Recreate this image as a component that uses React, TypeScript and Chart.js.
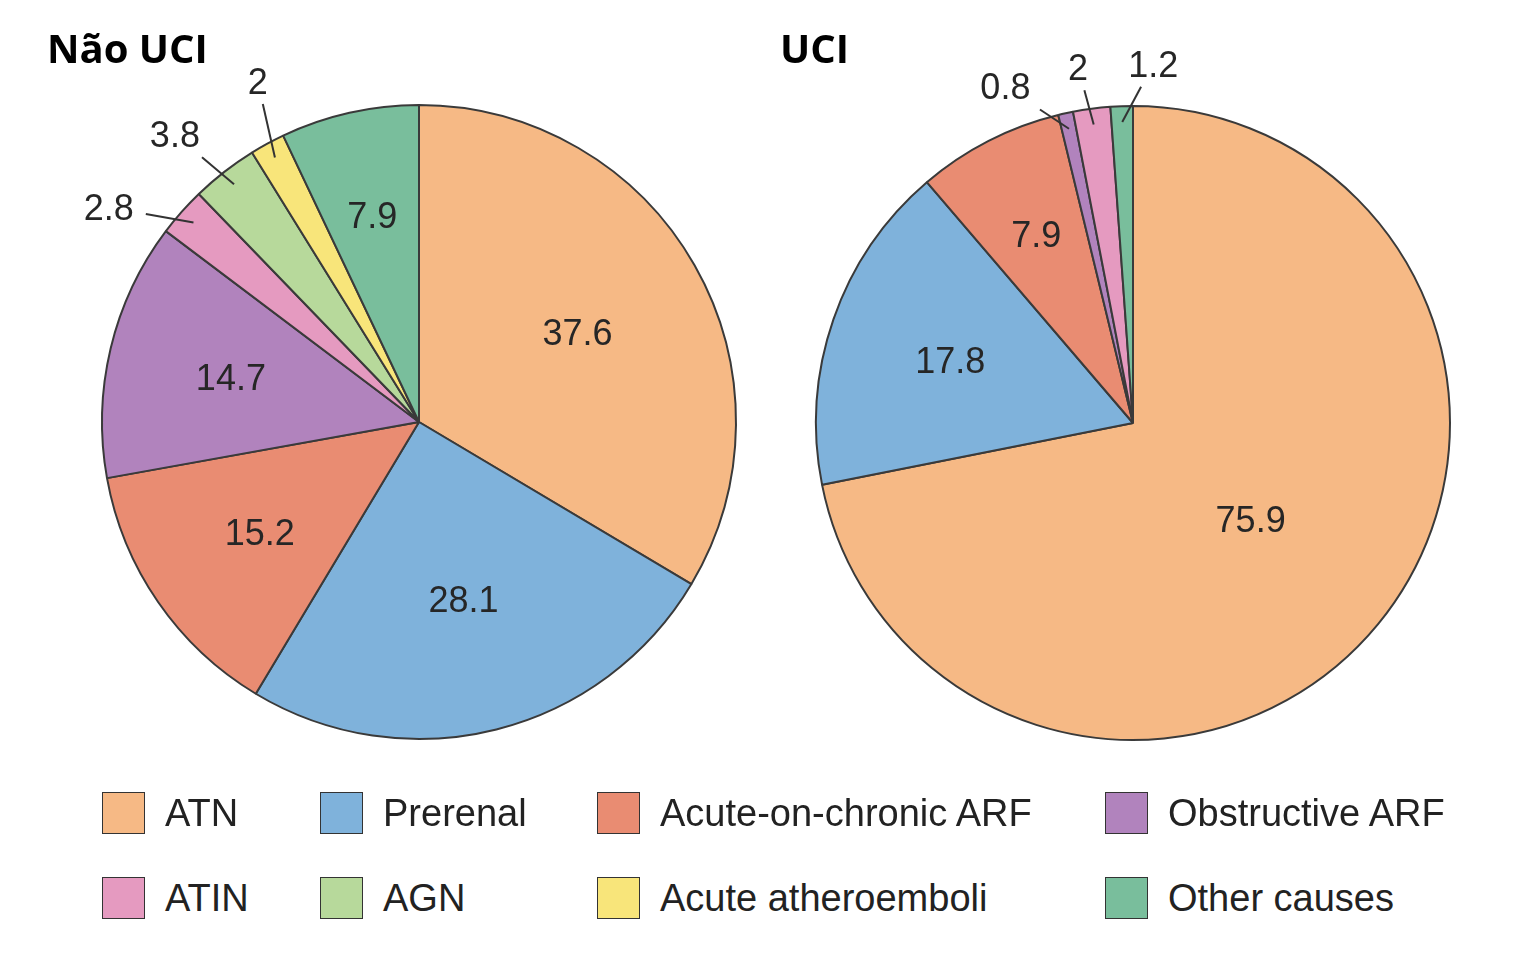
import React, { useEffect, useRef } from "react";
import { Chart, registerables } from "chart.js";

Chart.register(...registerables);

const categories = [
  "ATN",
  "Prerenal",
  "Acute-on-chronic ARF",
  "Obstructive ARF",
  "ATIN",
  "AGN",
  "Acute atheroemboli",
  "Other causes",
];
const nonIcuValues = [37.6, 28.1, 15.2, 14.7, 2.8, 3.8, 2, 7.9];
const icuValues = [75.9, 17.8, 7.9, 0.8, 2, 0, 0, 1.2];
const sliceColors = [
  "#F6B985",
  "#7FB2DB",
  "#E98C72",
  "#B183BD",
  "#E59AC0",
  "#B7D99B",
  "#F8E57A",
  "#79BE9C",
];
const panelTitles = ["Não UCI", "UCI"];
const legendRows = [
  [0, 1, 2, 3],
  [4, 5, 6, 7],
];

const LABEL_SIZE = 36;
const LABEL_FONT = `${LABEL_SIZE}px "Liberation Sans", Arial, sans-serif`;

type LabelStyle = { textRadius: number; minSepDeg: number; shiftDeg: number };

function makeLabelPlugin(style: LabelStyle) {
  return {
    id: "sliceLabels",
    afterDatasetsDraw(chart: any) {
      const ctx: CanvasRenderingContext2D = chart.ctx;
      const meta = chart.getDatasetMeta(0);
      const values = chart.data.datasets[0].data as number[];
      const total = values.reduce((a, b) => a + b, 0);
      ctx.save();
      ctx.font = LABEL_FONT;
      ctx.fillStyle = "#262626";
      ctx.textAlign = "center";
      ctx.textBaseline = "alphabetic";
      const capHalf = LABEL_SIZE * 0.358;
      const outside: any[] = [];
      meta.data.forEach((arc: any, i: number) => {
        const v = values[i];
        if (!v) return;
        const p = arc.getProps(["x", "y", "startAngle", "endAngle", "outerRadius"], true);
        const mid = (p.startAngle + p.endAngle) / 2;
        const frac = v / total;
        const text = String(v);
        if (frac < 0.05) {
          outside.push({ text, mid, angle: mid, p });
          return;
        }
        const rf = frac > 0.5 ? 0.48 : frac > 0.2 ? 0.575 : frac > 0.1 ? 0.61 : 0.67;
        ctx.fillText(
          text,
          p.x + Math.cos(mid) * p.outerRadius * rf,
          p.y + Math.sin(mid) * p.outerRadius * rf + capHalf
        );
      });
      outside.sort((a, b) => a.angle - b.angle);
      const minSep = (style.minSepDeg * Math.PI) / 180;
      for (let k = 0; k < 300; k++) {
        for (let j = 1; j < outside.length; j++) {
          const d = outside[j].angle - outside[j - 1].angle;
          if (d < minSep) {
            const s = (minSep - d) / 2;
            outside[j - 1].angle -= s;
            outside[j].angle += s;
          }
        }
      }
      const shift = (style.shiftDeg * Math.PI) / 180;
      ctx.strokeStyle = "#333333";
      ctx.lineWidth = 2;
      outside.forEach((o) => {
        const { x, y, outerRadius: R } = o.p;
        const a = o.angle + shift;
        const tx = x + Math.cos(a) * R * style.textRadius;
        const ty = y + Math.sin(a) * R * style.textRadius;
        const ax = x + Math.cos(o.mid) * R * 0.95;
        const ay = y + Math.sin(o.mid) * R * 0.95;
        const w = ctx.measureText(o.text).width;
        const hw = w / 2 + 12;
        const hh = capHalf + 10;
        let ux = ax - tx;
        let uy = ay - ty;
        const len = Math.hypot(ux, uy) || 1;
        ux /= len;
        uy /= len;
        const t = Math.min(
          Math.abs(ux) > 1e-6 ? hw / Math.abs(ux) : Infinity,
          Math.abs(uy) > 1e-6 ? hh / Math.abs(uy) : Infinity
        );
        const ex = tx + ux * t;
        const ey = ty + uy * t;
        ctx.beginPath();
        ctx.moveTo(ax, ay);
        ctx.lineTo(ex, ey);
        ctx.stroke();
        ctx.fillText(o.text, tx, ty + capHalf);
      });
      ctx.restore();
    },
  };
}

function PieCanvas({
  values,
  left,
  top,
  labelStyle,
}: {
  values: number[];
  left: number;
  top: number;
  labelStyle: LabelStyle;
}) {
  const ref = useRef<HTMLCanvasElement | null>(null);
  useEffect(() => {
    if (!ref.current) return;
    const chart = new Chart(ref.current, {
      type: "pie",
      data: {
        labels: categories,
        datasets: [
          {
            data: values,
            backgroundColor: sliceColors,
            borderColor: "#3a3a3a",
            borderWidth: 2,
            radius: 317,
          } as any,
        ],
      },
      options: {
        responsive: true,
        maintainAspectRatio: false,
        animation: false,
        events: [],
        layout: { padding: 0 },
        plugins: {
          legend: { display: false },
          tooltip: { enabled: false },
          title: { display: false },
        },
      },
      plugins: [makeLabelPlugin(labelStyle) as any],
    });
    return () => chart.destroy();
  }, [values, labelStyle]);
  return (
    <div style={{ position: "absolute", left, top, width: 780, height: 780 }}>
      <canvas ref={ref} />
    </div>
  );
}

const leftLabelStyle: LabelStyle = { textRadius: 1.19, minSepDeg: 15, shiftDeg: -2 };
const rightLabelStyle: LabelStyle = { textRadius: 1.135, minSepDeg: 12, shiftDeg: -1.5 };

export default function App() {
  const titleStyle: React.CSSProperties = {
    position: "absolute",
    top: 28,
    fontFamily: '"Open Sans", "Liberation Sans", sans-serif',
    fontWeight: 700,
    fontSize: 40,
    lineHeight: 1,
    color: "#000",
    whiteSpace: "nowrap",
  };
  const colLefts = [102, 320, 597, 1105];
  const rowTops = [791, 876];
  return (
    <div
      style={{
        position: "fixed",
        left: 0,
        top: 0,
        width: 1537,
        height: 958,
        background: "#ffffff",
        overflow: "hidden",
      }}
    >
      <PieCanvas values={nonIcuValues} left={29} top={32} labelStyle={leftLabelStyle} />
      <PieCanvas values={icuValues} left={743} top={33} labelStyle={rightLabelStyle} />
      <div style={{ ...titleStyle, left: 47 }}>{panelTitles[0]}</div>
      <div style={{ ...titleStyle, left: 780 }}>{panelTitles[1]}</div>
      {legendRows.map((row, ri) =>
        row.map((ci, k) => (
          <div
            key={ci}
            style={{
              position: "absolute",
              left: colLefts[k],
              top: rowTops[ri],
              height: 43,
              display: "flex",
              alignItems: "center",
              whiteSpace: "nowrap",
            }}
          >
            <div
              style={{
                width: 41,
                height: 40,
                background: sliceColors[ci],
                border: "1.5px solid #333",
                marginRight: 20,
                flex: "none",
              }}
            />
            <span
              style={{
                fontFamily: '"Liberation Sans", Arial, sans-serif',
                fontSize: 38,
                lineHeight: 1,
                color: "#222",
              }}
            >
              {categories[ci]}
            </span>
          </div>
        ))
      )}
    </div>
  );
}
